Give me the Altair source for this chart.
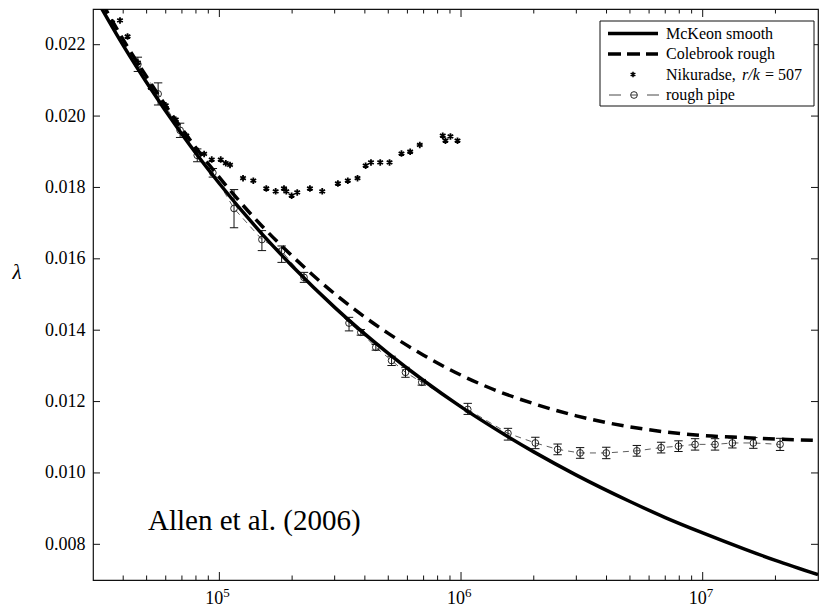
import altair as alt
import pandas as pd

# ---------------- data ----------------
mckeon_re = [3e4, 4e4, 5e4, 7e4, 1e5, 1.5e5, 2e5, 3e5, 5e5, 7e5, 1e6, 1.5e6, 2e6,
             3e6, 5e6, 7e6, 1e7, 1.5e7, 2e7, 3e7]
mckeon_lam = [0.02344, 0.02198, 0.02094, 0.01949, 0.01811, 0.01670, 0.01580, 0.01464,
              0.01335, 0.01259, 0.01185, 0.01109, 0.01059, 0.00994, 0.00920, 0.00875,
              0.00832, 0.00786, 0.00755, 0.00715]

colebrook_re = [3e4, 4e4, 5e4, 7e4, 1e5, 1.5e5, 2e5, 3e5, 5e5, 7e5, 1e6, 1.5e6, 2e6,
                3e6, 5e6, 7e6, 1e7, 1.5e7, 2e7, 3e7]
colebrook_lam = [0.02364, 0.02214, 0.02110, 0.01964, 0.01828, 0.01692, 0.01608, 0.01502,
                 0.01391, 0.01330, 0.01274, 0.01223, 0.01194, 0.01160, 0.01129, 0.01115,
                 0.01105, 0.01099, 0.01095, 0.01091]

nik_re = [3.6e4, 3.88e4, 4.17e4, 4.6e4, 5.2e4, 6.0e4, 6.6e4, 7.3e4, 8.0e4, 8.65e4,
          9.30e4, 1.013e5, 1.063e5, 1.107e5, 1.253e5, 1.382e5, 1.564e5, 1.71e5,
          1.851e5, 1.892e5, 1.991e5, 2.10e5, 2.37e5, 2.665e5, 3.094e5, 3.40e5,
          3.73e5, 4.03e5, 4.24e5, 4.63e5, 5.06e5, 5.67e5, 6.16e5, 6.75e5, 8.40e5,
          8.62e5, 9.04e5, 9.67e5]
nik_lam = [0.02262, 0.02268, 0.02223, 0.02150, 0.02080, 0.02030, 0.01990, 0.01945,
           0.01905, 0.01894, 0.01878, 0.01878, 0.01868, 0.01863, 0.01826, 0.01819,
           0.01797, 0.01789, 0.01797, 0.01789, 0.01777, 0.01786, 0.01797, 0.01789,
           0.01811, 0.01819, 0.01826, 0.01861, 0.01870, 0.01870, 0.01870, 0.01895,
           0.01900, 0.01919, 0.01945, 0.01931, 0.01943, 0.01931]

rough_re = [4.6e4, 5.58e4, 6.88e4, 8.1e4, 9.4e4, 1.15e5, 1.50e5, 1.81e5, 2.24e5,
            3.44e5, 3.85e5, 4.44e5, 5.16e5, 5.89e5, 6.88e5, 1.066e6, 1.564e6, 2.03e6,
            2.51e6, 3.11e6, 3.99e6, 5.34e6, 6.73e6, 7.94e6, 9.30e6, 1.125e7, 1.327e7,
            1.62e7, 2.09e7]
rough_lam = [0.02145, 0.02062, 0.01960, 0.01890, 0.01841, 0.01741, 0.01654, 0.01622,
             0.01548, 0.01420, 0.01394, 0.01352, 0.01315, 0.01282, 0.01254, 0.01178,
             0.01111, 0.01084, 0.01066, 0.01056, 0.01056, 0.01062, 0.01071, 0.01075,
             0.01080, 0.01080, 0.01084, 0.01084, 0.01080]
rough_lo = [0.02125, 0.02031, 0.01940, 0.01872, 0.01829, 0.01687, 0.01623, 0.01590,
            0.01534, 0.01398, 0.01386, 0.01344, 0.01301, 0.01268, 0.01246, 0.01164,
            0.01092, 0.01068, 0.01051, 0.01041, 0.01040, 0.01047, 0.01056, 0.01060,
            0.01064, 0.01064, 0.01070, 0.01069, 0.01063]
rough_hi = [0.02165, 0.02093, 0.01980, 0.01908, 0.01853, 0.01794, 0.01679, 0.01636,
            0.01562, 0.01436, 0.01402, 0.01360, 0.01327, 0.01296, 0.01262, 0.01195,
            0.01125, 0.01100, 0.01081, 0.01071, 0.01072, 0.01077, 0.01086, 0.01090,
            0.01096, 0.01096, 0.01098, 0.01099, 0.01097]

x_major_ticks = [1e5, 1e6, 1e7]
x_major_base = ["10", "10", "10"]
x_major_exp = ["5", "6", "7"]
x_minor_ticks = [4e4, 5e4, 6e4, 7e4, 8e4, 9e4,
                 2e5, 3e5, 4e5, 5e5, 6e5, 7e5, 8e5, 9e5,
                 2e6, 3e6, 4e6, 5e6, 6e6, 7e6, 8e6, 9e6, 2e7]
y_ticks = [0.008, 0.010, 0.012, 0.014, 0.016, 0.018, 0.020, 0.022]

legend_labels = ["McKeon smooth", "Colebrook rough", "Nikuradse, ", "rough pipe"]

# ---------------- tables ----------------
mck = pd.DataFrame({"re": mckeon_re, "lam": mckeon_lam})
col = pd.DataFrame({"re": colebrook_re, "lam": colebrook_lam})
nik = pd.DataFrame({"re": nik_re, "lam": nik_lam})
rough = pd.DataFrame({"re": rough_re, "lam": rough_lam, "lo": rough_lo, "hi": rough_hi})
xmaj = pd.DataFrame({"re": x_major_ticks, "base": x_major_base, "exp": x_major_exp})
xmin = pd.DataFrame({"re": x_minor_ticks})
yt = pd.DataFrame({"lam": y_ticks})
one = pd.DataFrame({"a": [0]})

W, H = 725, 571
SERIF = "Liberation Serif"
INK = "#111111"

xscale = alt.Scale(type="log", domain=[3e4, 3e7], nice=False)
yscale = alt.Scale(domain=[0.007, 0.023], nice=False, zero=False)

xaxis = alt.Axis(values=x_major_ticks, labels=False, ticks=False, domain=False,
                 grid=False, title=None)
yaxis = alt.Axis(values=y_ticks, format=".3f", ticks=False, domain=False, grid=False,
                 labelFont=SERIF, labelFontSize=18, labelColor="black",
                 labelPadding=8, title=None)


def X(f):
    return alt.X(f, type="quantitative", scale=xscale, axis=xaxis)


def Y(f):
    return alt.Y(f, type="quantitative", scale=yscale, axis=yaxis)


# ---------------- tick marks (inward) and x labels ----------------
bot_major = alt.Chart(xmaj).mark_rule(color=INK, strokeWidth=1).encode(
    x=X("re"), y=alt.value(H), y2=alt.value(H - 8))
bot_minor = alt.Chart(xmin).mark_rule(color=INK, strokeWidth=1).encode(
    x=X("re"), y=alt.value(H), y2=alt.value(H - 4.5))
top_major = alt.Chart(xmaj).mark_rule(color=INK, strokeWidth=1).encode(
    x=X("re"), y=alt.value(0), y2=alt.value(8))
top_minor = alt.Chart(xmin).mark_rule(color=INK, strokeWidth=1).encode(
    x=X("re"), y=alt.value(0), y2=alt.value(4.5))
left_t = alt.Chart(yt).mark_rule(color=INK, strokeWidth=1).encode(
    y=Y("lam"), x=alt.value(0), x2=alt.value(7))
right_t = alt.Chart(yt).mark_rule(color=INK, strokeWidth=1).encode(
    y=Y("lam"), x=alt.value(W), x2=alt.value(W - 7))

x_lab_base = alt.Chart(xmaj).mark_text(font=SERIF, fontSize=18, color="black",
                                       align="right", baseline="alphabetic", dx=4).encode(
    x=X("re"), y=alt.value(H + 24), text="base:N")
x_lab_exp = alt.Chart(xmaj).mark_text(font=SERIF, fontSize=13, color="black",
                                      align="left", baseline="alphabetic", dx=4).encode(
    x=X("re"), y=alt.value(H + 17), text="exp:N")

# ---------------- data marks ----------------
mck_line = alt.Chart(mck).mark_line(color="black", strokeWidth=3.5, clip=True,
                                    interpolate="monotone").encode(x=X("re"), y=Y("lam"))
col_line = alt.Chart(col).mark_line(color="black", strokeWidth=3.5, clip=True,
                                    strokeDash=[12, 7], strokeCap="butt",
                                    interpolate="monotone").encode(x=X("re"), y=Y("lam"))
rough_line = alt.Chart(rough).mark_line(color="#333333", strokeWidth=0.8,
                                        strokeDash=[6, 5]).encode(x=X("re"), y=Y("lam"))
rough_bar = alt.Chart(rough).mark_rule(color=INK, strokeWidth=1).encode(
    x=X("re"), y=Y("lo"), y2=alt.Y2("hi"))
rough_cap_lo = alt.Chart(rough).mark_point(shape="stroke", size=70, color=INK,
                                           strokeWidth=1, opacity=1).encode(x=X("re"), y=Y("lo"))
rough_cap_hi = alt.Chart(rough).mark_point(shape="stroke", size=70, color=INK,
                                           strokeWidth=1, opacity=1).encode(x=X("re"), y=Y("hi"))
rough_pts = alt.Chart(rough).mark_point(shape="circle", size=45, filled=False, color=INK,
                                        strokeWidth=0.9, opacity=1).encode(x=X("re"), y=Y("lam"))

ASTER = "M0,-1L0,1M-0.866,-0.5L0.866,0.5M-0.866,0.5L0.866,-0.5"
nik_pts = alt.Chart(nik).mark_point(shape=ASTER, size=42, filled=False, color="black",
                                    strokeWidth=1.8, opacity=1, clip=True).encode(
    x=X("re"), y=Y("lam"))

# ---------------- legend (drawn by hand) ----------------
LX0, LX1, LY0, LY1 = 507, 721, 12, 97
rows = [24.5, 45, 65.5, 86]
box = alt.Chart(one).mark_rect(fill="white", stroke=INK, strokeWidth=1).encode(
    x=alt.value(LX0), x2=alt.value(LX1), y=alt.value(LY0), y2=alt.value(LY1))
lg_mck = alt.Chart(one).mark_rule(color="black", strokeWidth=3.5).encode(
    x=alt.value(515), x2=alt.value(565), y=alt.value(rows[0]))
lg_col = alt.Chart(one).mark_rule(color="black", strokeWidth=3.5, strokeDash=[13, 6],
                                  strokeCap="butt").encode(
    x=alt.value(515), x2=alt.value(565), y=alt.value(rows[1]))
lg_nik = alt.Chart(one).mark_point(shape=ASTER, size=30, filled=False, color="black",
                                   strokeWidth=1.6, opacity=1).encode(
    x=alt.value(540), y=alt.value(rows[2]))
lg_rough_line = alt.Chart(one).mark_rule(color="#333333", strokeWidth=0.9,
                                         strokeDash=[12, 10, 6, 10, 12]).encode(
    x=alt.value(516), x2=alt.value(566), y=alt.value(rows[3]))
lg_rough_pt = alt.Chart(one).mark_point(shape="circle", size=45, filled=False, color=INK,
                                        strokeWidth=0.9, opacity=1).encode(
    x=alt.value(541), y=alt.value(rows[3]))


def ltext(txt, x, y, style="normal"):
    return alt.Chart(one).mark_text(text=txt, font=SERIF, fontSize=16, fontStyle=style,
                                    color="black", align="left", baseline="middle").encode(
        x=alt.value(x), y=alt.value(y))


lg_t1 = ltext(legend_labels[0], 573, rows[0])
lg_t2 = ltext(legend_labels[1], 573, rows[1])
lg_t3a = ltext(legend_labels[2], 573, rows[2])
lg_t3b = ltext("r/k", 649, rows[2], "italic")
lg_t3c = ltext("= 507", 672, rows[2])
lg_t4 = ltext(legend_labels[3], 573, rows[3])

# ---------------- annotations ----------------
lam_title = alt.Chart(one).mark_text(text="λ", font=SERIF, fontSize=21, fontStyle="italic",
                                     color="black", align="center", baseline="middle").encode(
    x=alt.value(-76), y=alt.value(264))
allen = alt.Chart(one).mark_text(text="Allen et al. (2006)", font=SERIF, fontSize=29,
                                 color="black", align="left", baseline="alphabetic").encode(
    x=alt.value(55), y=alt.value(521))

chart = alt.layer(
    bot_major, bot_minor, top_major, top_minor, left_t, right_t,
    x_lab_base, x_lab_exp,
    rough_line, rough_bar, rough_cap_lo, rough_cap_hi, rough_pts,
    col_line, mck_line, nik_pts,
    box, lg_mck, lg_col, lg_nik, lg_rough_line, lg_rough_pt,
    lg_t1, lg_t2, lg_t3a, lg_t3b, lg_t3c, lg_t4,
    lam_title, allen,
).properties(
    width=W, height=H,
    autosize=alt.AutoSizeParams(type="none"),
    padding={"left": 85, "top": 1, "right": 1, "bottom": 30},
    background="white",
).configure_view(stroke=INK, strokeWidth=1.2)

chart.save("out.html", embed_options={"renderer": "svg", "actions": False})
